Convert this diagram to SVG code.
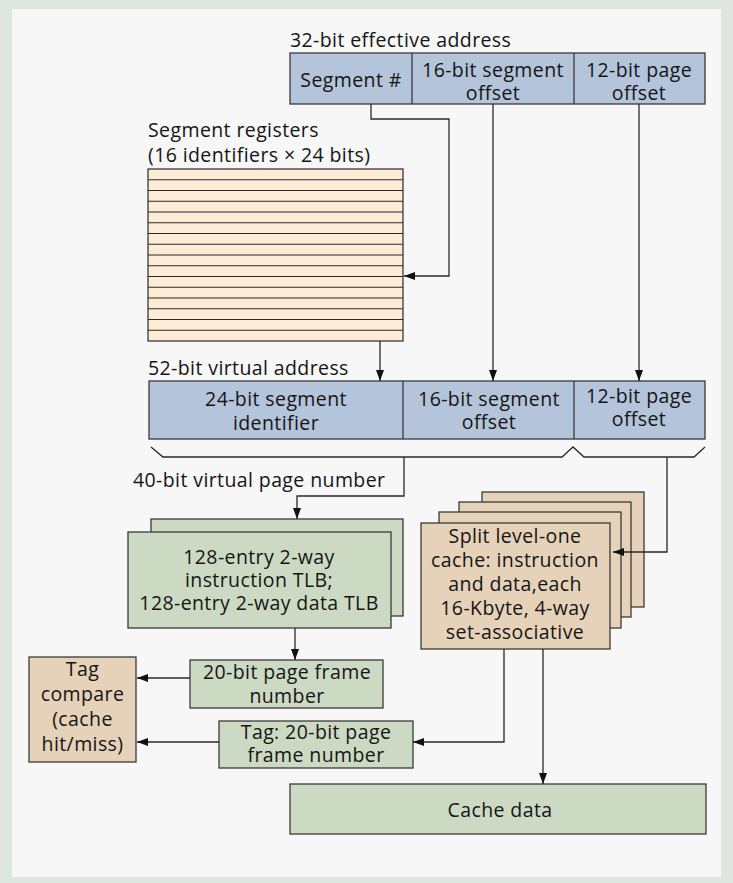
<svg xmlns="http://www.w3.org/2000/svg" width="733" height="883" viewBox="0 0 733 883">
<defs>
<marker id="ah" markerUnits="userSpaceOnUse" markerWidth="11" markerHeight="8" refX="11" refY="4" orient="auto">
<path d="M0,0 L11,4 L0,8 z" fill="#111"/>
</marker>
<style>
text{font-family:"Open Sans","DejaVu Sans",sans-serif;font-size:19.5px;letter-spacing:0.4px;fill:#151515}
.c{text-anchor:middle}
.box{stroke:#3a3a3a;stroke-width:1.3}
.blue{fill:#b4c4da}
.green{fill:#cddac3}
.tan{fill:#e5d2b8}
.peach{fill:#fdebd5}
.ln{fill:none;stroke:#2a2a2a;stroke-width:1.3}
.arr{marker-end:url(#ah)}
</style>
</defs>
<rect x="0" y="0" width="733" height="883" fill="#dde6e1"/>
<rect x="12" y="9" width="709" height="868" fill="#f6f7f6"/>

<g id="effective-address">
<text x="290" y="47">32-bit effective address</text>
<rect class="box blue" x="290" y="53" width="415" height="51"/>
<line class="box" x1="412" y1="53" x2="412" y2="104"/>
<line class="box" x1="574" y1="53" x2="574" y2="104"/>
<text class="c" x="351" y="87">Segment #</text>
<text class="c" x="493" y="77">16-bit segment</text>
<text class="c" x="493" y="100">offset</text>
<text class="c" x="639" y="77">12-bit page</text>
<text class="c" x="639" y="100">offset</text>
</g>

<g id="segment-registers">
<text x="148" y="137">Segment registers</text>
<text x="148" y="162">(16 identifiers × 24 bits)</text>
<rect class="box peach" x="148" y="169" width="255" height="172"/>
<g stroke="#2a2a2a" stroke-width="1.1">
<line x1="148" y1="179.75" x2="403" y2="179.75"/>
<line x1="148" y1="190.5" x2="403" y2="190.5"/>
<line x1="148" y1="201.25" x2="403" y2="201.25"/>
<line x1="148" y1="212" x2="403" y2="212"/>
<line x1="148" y1="222.75" x2="403" y2="222.75"/>
<line x1="148" y1="233.5" x2="403" y2="233.5"/>
<line x1="148" y1="244.25" x2="403" y2="244.25"/>
<line x1="148" y1="255" x2="403" y2="255"/>
<line x1="148" y1="265.75" x2="403" y2="265.75"/>
<line x1="148" y1="276.5" x2="403" y2="276.5"/>
<line x1="148" y1="287.25" x2="403" y2="287.25"/>
<line x1="148" y1="298" x2="403" y2="298"/>
<line x1="148" y1="308.75" x2="403" y2="308.75"/>
<line x1="148" y1="319.5" x2="403" y2="319.5"/>
<line x1="148" y1="330.25" x2="403" y2="330.25"/>
</g>
</g>

<g id="virtual-address">
<text x="148" y="375">52-bit virtual address</text>
<rect class="box blue" x="149" y="381" width="556" height="58"/>
<line class="box" x1="403" y1="381" x2="403" y2="439"/>
<line class="box" x1="574" y1="381" x2="574" y2="439"/>
<text class="c" x="276" y="406">24-bit segment</text>
<text class="c" x="276" y="430">identifier</text>
<text class="c" x="489" y="406">16-bit segment</text>
<text class="c" x="489" y="429">offset</text>
<text class="c" x="639" y="403">12-bit page</text>
<text class="c" x="639" y="426">offset</text>
</g>

<g id="braces">
<path class="ln" d="M151,447 L163,457 L562,457 L573,447 L584,457 L694,457 L705,447"/>
<text x="133" y="487">40-bit virtual page number</text>
</g>

<g id="tlb">
<rect class="box green" x="151" y="519" width="252" height="97"/>
<rect class="box green" x="128" y="532" width="263" height="96"/>
<text class="c" x="259" y="564">128-entry 2-way</text>
<text class="c" x="259" y="587">instruction TLB;</text>
<text class="c" x="259" y="610">128-entry 2-way data TLB</text>
</g>

<g id="l1-cache">
<rect class="box tan" x="482" y="492" width="162" height="115"/>
<rect class="box tan" x="459" y="502" width="172" height="115"/>
<rect class="box tan" x="439" y="512" width="182" height="116"/>
<rect class="box tan" x="421" y="523" width="189" height="126"/>
<text class="c" x="515" y="543">Split level-one</text>
<text class="c" x="515" y="567">cache: instruction</text>
<text class="c" x="515" y="591">and data,each</text>
<text class="c" x="515" y="615">16-Kbyte, 4-way</text>
<text class="c" x="515" y="639">set-associative</text>
</g>

<g id="tag-compare">
<rect class="box tan" x="29" y="657" width="107" height="105"/>
<text class="c" x="82.5" y="676">Tag</text>
<text class="c" x="82.5" y="701">compare</text>
<text class="c" x="82.5" y="726">(cache</text>
<text class="c" x="82.5" y="751">hit/miss)</text>
</g>

<g id="page-frame">
<rect class="box green" x="190" y="660" width="193" height="48"/>
<text class="c" x="287" y="679">20-bit page frame</text>
<text class="c" x="287" y="703">number</text>
</g>

<g id="tag-frame">
<rect class="box green" x="219" y="721" width="194" height="47"/>
<text class="c" x="316" y="739">Tag: 20-bit page</text>
<text class="c" x="316" y="762">frame number</text>
</g>

<g id="cache-data">
<rect class="box green" x="290" y="784" width="416" height="50"/>
<text class="c" x="500" y="817">Cache data</text>
</g>

<g id="connectors">
<polyline class="ln arr" points="371,104 371,119 449,119 449,276 404,276"/>
<polyline class="ln arr" points="493,104 493,381"/>
<polyline class="ln arr" points="639,104 639,381"/>
<polyline class="ln arr" points="380,341 380,381"/>
<polyline class="ln arr" points="404,457 404,496 297,496 297,519"/>
<polyline class="ln arr" points="667,457 667,552 613,552"/>
<polyline class="ln arr" points="295,628 295,660"/>
<polyline class="ln arr" points="190,678 137,678"/>
<polyline class="ln arr" points="219,742 137,742"/>
<polyline class="ln arr" points="504,649 504,742 413,742"/>
<polyline class="ln arr" points="543,649 543,784"/>
</g>
</svg>
